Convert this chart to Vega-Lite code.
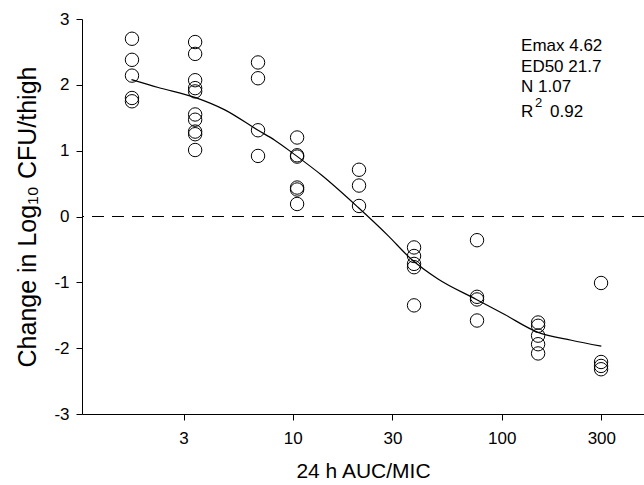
{
  "$schema": "https://vega.github.io/schema/vega-lite/v6.json",
  "width": 562,
  "height": 395,
  "autosize": {"type": "none"},
  "padding": {"left": 82, "top": 19, "right": 0, "bottom": 71},
  "background": "white",
  "config": {
    "view": {"stroke": null},
    "font": "Liberation Sans",
    "axis": {
      "grid": false,
      "domainColor": "#000000",
      "tickColor": "#000000",
      "labelColor": "#000000",
      "titleColor": "#000000",
      "labelFont": "Liberation Sans",
      "titleFont": "Liberation Sans",
      "titleFontWeight": "normal",
      "tickSize": 6,
      "domainWidth": 1,
      "tickWidth": 1
    }
  },
  "datasets": {
    "obs": [
      {"auc": 1.7, "change": 2.70}, {"auc": 1.7, "change": 2.38}, {"auc": 1.7, "change": 2.14}, {"auc": 1.7, "change": 1.80}, {"auc": 1.7, "change": 1.75},
      {"auc": 3.41, "change": 2.65}, {"auc": 3.41, "change": 2.47}, {"auc": 3.41, "change": 2.07}, {"auc": 3.41, "change": 1.95}, {"auc": 3.41, "change": 1.90},
      {"auc": 3.41, "change": 1.55}, {"auc": 3.41, "change": 1.47}, {"auc": 3.41, "change": 1.29}, {"auc": 3.41, "change": 1.25}, {"auc": 3.41, "change": 1.01},
      {"auc": 6.82, "change": 2.34}, {"auc": 6.82, "change": 2.10}, {"auc": 6.82, "change": 1.31}, {"auc": 6.82, "change": 0.92},
      {"auc": 10.49, "change": 1.20}, {"auc": 10.49, "change": 0.93}, {"auc": 10.49, "change": 0.91}, {"auc": 10.49, "change": 0.44}, {"auc": 10.49, "change": 0.41}, {"auc": 10.49, "change": 0.19},
      {"auc": 20.76, "change": 0.71}, {"auc": 20.76, "change": 0.47}, {"auc": 20.76, "change": 0.16},
      {"auc": 38.07, "change": -0.47}, {"auc": 38.07, "change": -0.60}, {"auc": 38.07, "change": -0.72}, {"auc": 38.07, "change": -0.77}, {"auc": 38.07, "change": -1.35},
      {"auc": 76.2, "change": -0.36}, {"auc": 76.2, "change": -1.22}, {"auc": 76.2, "change": -1.26}, {"auc": 76.2, "change": -1.58},
      {"auc": 149.4, "change": -1.61}, {"auc": 149.4, "change": -1.66}, {"auc": 149.4, "change": -1.81}, {"auc": 149.4, "change": -1.94}, {"auc": 149.4, "change": -2.08},
      {"auc": 299, "change": -1.01}, {"auc": 299, "change": -2.21}, {"auc": 299, "change": -2.27}, {"auc": 299, "change": -2.32}
    ],
    "fit": [
      {"auc": 1.69, "change": 2.08}, {"auc": 2.27, "change": 1.96}, {"auc": 3.40, "change": 1.81}, {"auc": 4.73, "change": 1.62},
      {"auc": 6.82, "change": 1.31}, {"auc": 8.20, "change": 1.16}, {"auc": 10.22, "change": 0.94}, {"auc": 13.72, "change": 0.63},
      {"auc": 20.53, "change": 0.14}, {"auc": 28.58, "change": -0.29}, {"auc": 36.98, "change": -0.65}, {"auc": 49.57, "change": -0.95},
      {"auc": 75.68, "change": -1.26}, {"auc": 103.4, "change": -1.49}, {"auc": 149.2, "change": -1.76}, {"auc": 215.6, "change": -1.88},
      {"auc": 299.9, "change": -1.97}
    ],
    "notes": [
      {"auc": 123.8, "change": 2.52, "label": "Emax 4.62"},
      {"auc": 123.8, "change": 2.20, "label": "ED50 21.7"},
      {"auc": 123.8, "change": 1.887, "label": "N 1.07"},
      {"auc": 123.8, "change": 1.516, "label": "R"},
      {"auc": 170.4, "change": 1.516, "label": "0.92"}
    ],
    "sup": [
      {"auc": 144.5, "change": 1.659, "label": "2"}
    ]
  },
  "layer": [
    {
      "data": {"name": "obs"},
      "mark": {"type": "rule", "color": "#000000", "strokeWidth": 1, "strokeDash": [12, 8]},
      "encoding": {"y": {"datum": 0, "type": "quantitative"}}
    },
    {
      "data": {"name": "fit"},
      "mark": {"type": "line", "color": "#000000", "strokeWidth": 1.2, "interpolate": "monotone"},
      "encoding": {
        "x": {
          "field": "auc", "type": "quantitative",
          "scale": {"type": "log", "domain": [0.98, 480], "nice": false},
          "axis": {"values": [3, 10, 30, 100, 300], "labelExpr": "'' + datum.value", "title": "24 h AUC/MIC", "labelFontSize": 17, "labelPadding": 10, "titleFontSize": 21, "titlePadding": 14}
        },
        "y": {
          "field": "change", "type": "quantitative",
          "scale": {"domain": [-3, 3], "nice": false},
          "axis": {"values": [-3, -2, -1, 0, 1, 2, 3], "labelExpr": "'' + datum.value", "title": "Change in Log₁₀ CFU/thigh", "labelFontSize": 17, "labelPadding": 7, "titleFontSize": 25, "titlePadding": 13}
        }
      }
    },
    {
      "data": {"name": "obs"},
      "mark": {"type": "point", "shape": "circle", "filled": false, "stroke": "#000000", "strokeWidth": 1, "size": 180, "opacity": 1},
      "encoding": {
        "x": {"field": "auc", "type": "quantitative"},
        "y": {"field": "change", "type": "quantitative"}
      }
    },
    {
      "data": {"name": "notes"},
      "mark": {"type": "text", "align": "left", "baseline": "alphabetic", "fontSize": 17, "color": "#000000"},
      "encoding": {
        "x": {"field": "auc", "type": "quantitative"},
        "y": {"field": "change", "type": "quantitative"},
        "text": {"field": "label"}
      }
    },
    {
      "data": {"name": "sup"},
      "mark": {"type": "text", "align": "left", "baseline": "alphabetic", "fontSize": 13, "color": "#000000"},
      "encoding": {
        "x": {"field": "auc", "type": "quantitative"},
        "y": {"field": "change", "type": "quantitative"},
        "text": {"field": "label"}
      }
    }
  ]
}
